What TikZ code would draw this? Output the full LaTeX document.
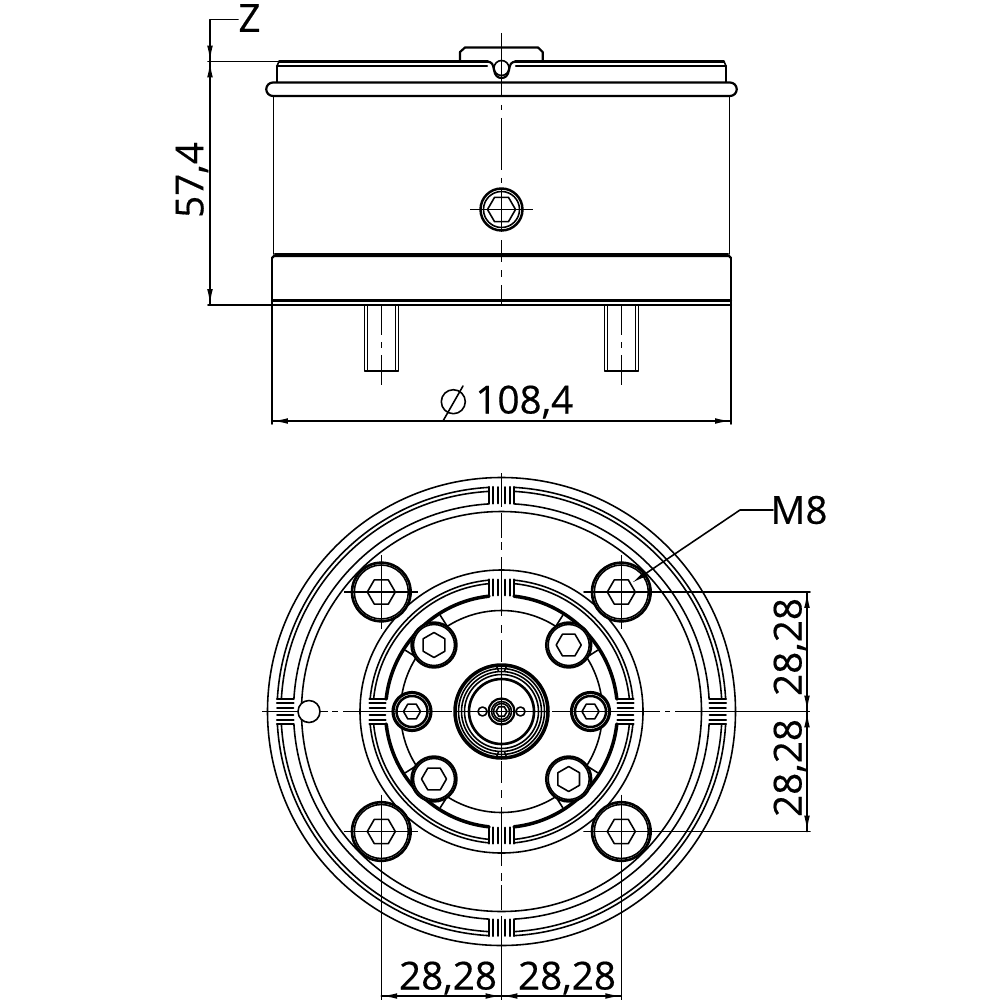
\documentclass[tikz,border=0pt]{standalone}
\usepackage{fontspec}
\setmainfont{Open Sans}[FakeBold=0.4]
\usetikzlibrary{arrows.meta}
\tikzset{
 thin line/.style={line width=0.9pt,line cap=round,line join=round},
 mid line/.style={line width=1.25pt,line cap=round,line join=round},
 thick line/.style={line width=2pt,line cap=round,line join=round},
 centre line/.style={line width=0.85pt},
 dim tip/.style={-{Latex[length=9pt,width=3.2pt]}},
 dim text/.style={font=\fontsize{22}{24}\selectfont,inner sep=0pt,text=black}
}
\newcommand{\hexshape}[5][thin line]{\draw[#1,fill=white] plot[samples at={0,60,...,300}] ({#2+#4*cos(\x+#5)},{#3+#4*sin(\x+#5)}) -- cycle;}
\newcommand{\ringarcs}[2][thin line]{\foreach \a in {0,90,180,270}{\pgfmathsetmacro{\gp}{asin(12.5/#2)}\draw[#1] ({501.5+#2*cos(\a+\gp)},{711.5+#2*sin(\a+\gp)}) arc[start angle=\a+\gp,end angle=\a+90-\gp,radius=#2];}}
\newcommand{\crossat}[3]{\draw[centre line] (#1-#3,#2) -- (#1+#3,#2) (#1,#2-#3) -- (#1,#2+#3);}
\begin{document}
\begin{tikzpicture}[x=0.02cm,y=0.02cm,yscale=-1]
\useasboundingbox (0,0) rectangle (1000,1000);
\fill[white] (0,0) rectangle (1000,1000);
%==== TOP VIEW
\foreach \p/\q in {33/97,105/110,118/170,178/183,190/232,240/262,270/277,285/305}{\draw[centre line] (501.5,\p) -- (501.5,\q);}
\draw[mid line] (460,61) -- (460,52) -- (465,47.5) -- (538,47.5) -- (542.7,52) -- (542.7,61);
\draw[mid line] (279,61.5) -- (488,61.5) (515,61.5) -- (724,61.5);
\draw[thin line] (277,82) -- (277,66) -- (279,61.5) (726,82) -- (726,66) -- (724,61.5);
\draw[mid line] (277,66) -- (487,66) (516,66) -- (726,66);
\draw[mid line] (487,61.5) .. controls (492,62) and (493,64) .. (494,70) .. controls (495,76) and (498,78) .. (501.5,78) .. controls (505,78) and (508,76) .. (509,70) .. controls (510,64) and (511,62) .. (516,61.5);
\draw[thin line] (501.5,68) circle[radius=7.5];
\draw[mid line] (273,82.5) -- (730,82.5) arc[start angle=-90,end angle=90,radius=6.75] -- (273,96) arc[start angle=90,end angle=270,radius=6.75] -- cycle;
\draw[thin line] (273.5,96) -- (273.5,254) (729.5,96) -- (729.5,254);
\draw[mid line] (275,254) -- (728,254);
\draw[thin line] (272,258) -- (272,305) (731,258) -- (731,305);
\draw[mid line] (272,258) -- (274,256) -- (729,256) -- (731,258);
\draw[mid line] (272,300.5) -- (731,300.5);
\draw[mid line] (272,305) -- (731,305);
\draw[thick line,line width=1.4pt] (501.5,209.5) circle[radius=21];
\draw[thin line] (501.5,209.5) circle[radius=18];
\hexshape{501.5}{209.5}{14}{0}
\draw[centre line] (470,209.5) -- (533,209.5);
\draw[centre line] (501.5,190) -- (501.5,232);
\foreach \c in {381.5,621.3}{
 \draw[thin line] (\c-17,305) -- (\c-17,371) -- (\c+17,371) -- (\c+17,305);
 \draw[thin line] (\c-14,305) -- (\c-14,371) (\c+14,305) -- (\c+14,371);
 \foreach \p/\q in {305/335,342/348,355/385}{\draw[centre line] (\c,\p) -- (\c,\q);}
}
\draw[thin line] (238,19.5) -- (210,19.5) -- (210,305);
\draw[thin line] (208,61.5) -- (279,61.5) (208,305) -- (272,305);
\draw[thin line,dim tip] (210,46) -- (210,61.5);
\draw[thin line,dim tip] (210,77) -- (210,61.5);
\draw[thin line,dim tip] (210,289) -- (210,305);
\node[dim text] (labelz) at (249.5,18) {Z};
\node[dim text,rotate=90] (labelh) at (192,180) {57,4};
\draw[thin line] (272,305) -- (272,424) (731,305) -- (731,424);
\draw[thin line] (272,421) -- (731,421);
\draw[thin line,dim tip] (300,421) -- (272,421);
\draw[thin line,dim tip] (700,421) -- (731,421);
\draw[thin line] (453.3,401.7) circle[radius=12];
\draw[thin line] (443,421) -- (463,386);
\node[dim text,anchor=west] (labeld) at (475,402) {108,4};
%==== BOTTOM VIEW
\foreach \p/\q in {473/507,513/538,542/550,557/616,625/633,640/662,667/756,761/783,790/798,807/866,873/881,885/910,916/950}{\draw[centre line] (501.5,\p) -- (501.5,\q);}
\foreach \p/\q in {262/328,332/338,343/360,360/452,455/548,552/660,665/670,675/810}{\draw[centre line] (\p,711.5) -- (\q,711.5);}
\draw[thin line] (501.5,711.5) circle[radius=234];
\draw[thin line] (501.5,711.5) circle[radius=200];
\ringarcs[thin line]{224.5}
\ringarcs[thin line]{220.5}
\ringarcs[thin line]{208}
\draw[thin line] (501.5,711.5) circle[radius=141.5];
\ringarcs[thin line]{132}
\ringarcs[thin line]{128.5}
\ringarcs[thick line]{116}
\foreach \r/\i/\o in {0/208/224.5,90/208/224.5,180/208/224.5,270/208/224.5,0/116/132,90/116/132,180/116/132,270/116/132}{
 \begin{scope}[shift={(501.5,711.5)},rotate=\r]
  \draw[thin line] (-\o,-3.3) -- (-\i,-3.3) (-\o,3.3) -- (-\i,3.3);
  \draw[mid line] (-\o,-12.7) -- (-\i,-12.7) (-\o,12.7) -- (-\i,12.7) (-\o,-8.3) -- (-\i,-8.3) (-\o,8.3) -- (-\i,8.3);
 \end{scope}
}
\foreach \a in {0,90,180,270}{
 \draw[thin line] ({501.5+101*cos(\a+57.5)},{711.5+101*sin(\a+57.5)}) arc[start angle=\a+57.5,end angle=\a+122.5,radius=101];
 \draw[thin line] ({501.5+101*cos(\a+32.5)},{711.5+101*sin(\a+32.5)}) -- ({501.5+114*cos(\a+32.5)},{711.5+114*sin(\a+32.5)});
 \draw[thin line] ({501.5+101*cos(\a+57.5)},{711.5+101*sin(\a+57.5)}) -- ({501.5+114*cos(\a+57.5)},{711.5+114*sin(\a+57.5)});
}
\foreach \bx/\by/\rr in {434/645/90,568.7/645/0,434/779/0,568.7/779/90}{
 \draw[thick line,line width=1.4pt,fill=white] (\bx,\by) circle[radius=22.5];
 \draw[thin line] (\bx,\by) circle[radius=20.5];
 \hexshape{\bx}{\by}{12.5}{\rr}
}
\foreach \bx in {412,590.5}{
 \draw[thick line,line width=1.8pt,fill=white] (\bx,711.5) circle[radius=19];
 \draw[thick line,line width=1.4pt] (\bx,711.5) circle[radius=15.5];
 \hexshape{\bx}{711.5}{8.5}{0}
 \draw[centre line] (\bx-22,711.5) -- (\bx+22,711.5);
}
\draw[thick line,fill=white] (501.5,711.5) circle[radius=46.5];
\draw[thin line] (501.5,711.5) circle[radius=43];
\draw[thin line] (501.5,711.5) circle[radius=40];
\draw[thin line] (501.5,711.5) circle[radius=37];
\draw[thick line,line width=1.5pt] (501.5,711.5) circle[radius=32.5];
\draw[thin line] (496,665) -- (498.5,671) (507,665) -- (504.5,671) (496,758) -- (498.5,752) (507,758) -- (504.5,752);
\draw[mid line,fill=white] (501.5,711.5) circle[radius=13];
\draw[thin line] (501.5,711.5) circle[radius=10];
\draw[thin line] (501.5,711.5) circle[radius=8];
\draw[thin line,fill=white] (482.5,711.5) circle[radius=4.5];
\draw[thin line,fill=white] (520.5,711.5) circle[radius=4.5];
\hexshape{501.5}{711.5}{5.5}{0}
\draw[centre line] (455,711.5) -- (548,711.5);
\draw[centre line] (501.5,667) -- (501.5,756);
\draw[thin line,fill=white] (309,711.5) circle[radius=11];
\foreach \bx/\by in {381.3/592,621.3/592,381.3/831.5,621.3/831.5}{
 \draw[thick line,line width=1.5pt,fill=white] (\bx,\by) circle[radius=29.3];
 \draw[thin line] (\bx,\by) circle[radius=27];
 \hexshape{\bx}{\by}{14}{0}
 \crossat{\bx}{\by}{37}
}
\draw[thin line,-{Latex[length=9pt,width=3.2pt]}] (773,510) -- (740,510) -- (631.7,583);
\node[dim text] (labelm) at (799,510) {M8};
\draw[thin line] (584,592) -- (810,592) (584,831.5) -- (810,831.5);
\draw[thin line] (807,592) -- (807,831.5);
\foreach \s/\e in {608/592,696/711.5,727/711.5,816/831.5}{\draw[thin line,dim tip] (807,\s) -- (807,\e);}
\node[dim text,rotate=90] (labelr1) at (790,647) {28,28};
\node[dim text,rotate=90] (labelr2) at (790,768) {28,28};
\draw[thin line] (381.3,868) -- (381.3,1000) (621.3,868) -- (621.3,1000) (501.5,950) -- (501.5,1000);
\draw[thin line] (381.3,996) -- (621.3,996);
\foreach \s/\e in {397/381.3,486/501.5,517/501.5,606/621.3}{\draw[thin line,dim tip] (\s,996) -- (\e,996);}
\node[dim text] (labelb1) at (448,978) {28,28};
\node[dim text] (labelb2) at (567,978) {28,28};
\end{tikzpicture}
\end{document}
